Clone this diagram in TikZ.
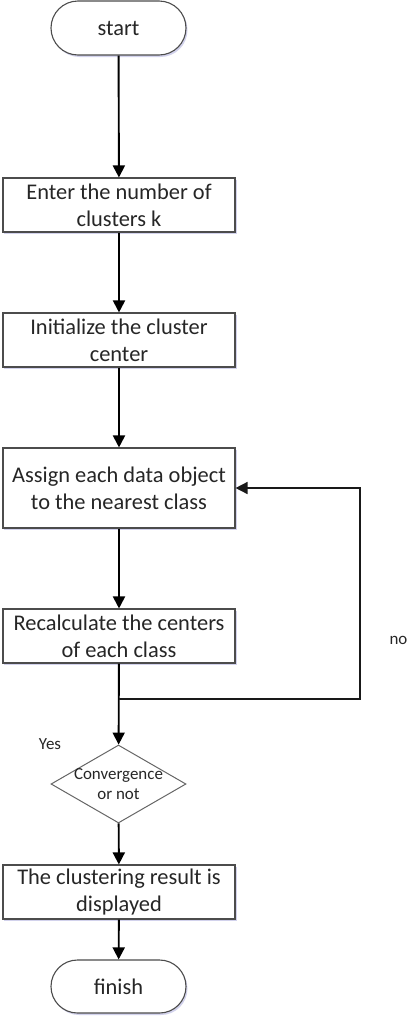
\documentclass[tikz,border=0pt]{standalone}
\usepackage{fontspec}
\setmainfont{Carlito}
\usetikzlibrary{shapes.geometric,shapes.misc,arrows.meta,shadows}
\begin{document}
\begin{tikzpicture}[x=1bp,y=-1bp,
  boxshadow/.style={drop shadow={shadow xshift=1.5bp,shadow yshift=-2bp,opacity=0.25,fill=blue!40!gray}},
  procbox/.style={draw=black!70,line width=1.1bp,fill=white,minimum width=232bp,minimum height=54bp,
    inner sep=1bp,align=center,font=\fontsize{22.5}{27}\selectfont,text=black!85,boxshadow},
  termbox/.style={draw=black!70,line width=1.1bp,fill=white,rounded rectangle,minimum width=135bp,minimum height=54bp,
    inner sep=0bp,font=\fontsize{22.5}{27}\selectfont,text=black!85,boxshadow},
  decbox/.style={draw=black!60,line width=1bp,fill=white,diamond,minimum width=135bp,minimum height=78bp,inner sep=0bp},
  flow/.style={draw=black,line width=1.9bp,-{Triangle[length=12bp,width=12bp]}},
  loopflow/.style={draw=black!90,line width=1.5bp,-{Triangle[length=12bp,width=12bp]}},
  smalltext/.style={font=\fontsize{17}{20}\selectfont,text=black!85}
]
\useasboundingbox (0,0) rectangle (409,1023);
\node[termbox] (start) at (118.5,28) {start};
\node[procbox] (b1) at (119,205) {Enter the number of\\clusters k};
\node[procbox] (b2) at (119,340) {Initialize the cluster\\center};
\node[procbox,minimum height=80bp] (b3) at (119,488) {Assign each data object\\to the nearest class};
\node[procbox] (b4) at (119,636) {Recalculate the centers\\of each class};
\node[decbox] (d) at (118.5,784) {};
\node[align=center,font=\fontsize{17}{20}\selectfont,text=black!85] (dt) at (118.5,784) {Convergence\\or not};
\node[procbox] (b5) at (119,892) {The clustering result is\\displayed};
\node[termbox,minimum height=53bp] (finish) at (118.5,986.5) {finish};
\node[smalltext] (no) at (398.5,640) {no};
\node[smalltext] (yes) at (50,744) {Yes};
\coordinate (j) at (119,699);
\coordinate (r) at (360,699);
\draw[flow] (start) -- (b1);
\draw[flow] (b1) -- (b2);
\draw[flow] (b2) -- (b3);
\draw[flow] (b3) -- (b4);
\draw[flow] (b4) -- (d);
\draw[loopflow] (j) -- (r) |- (b3.east);
\draw[flow] (d) -- (b5);
\draw[flow] (b5) -- (finish);
\end{tikzpicture}
\end{document}
